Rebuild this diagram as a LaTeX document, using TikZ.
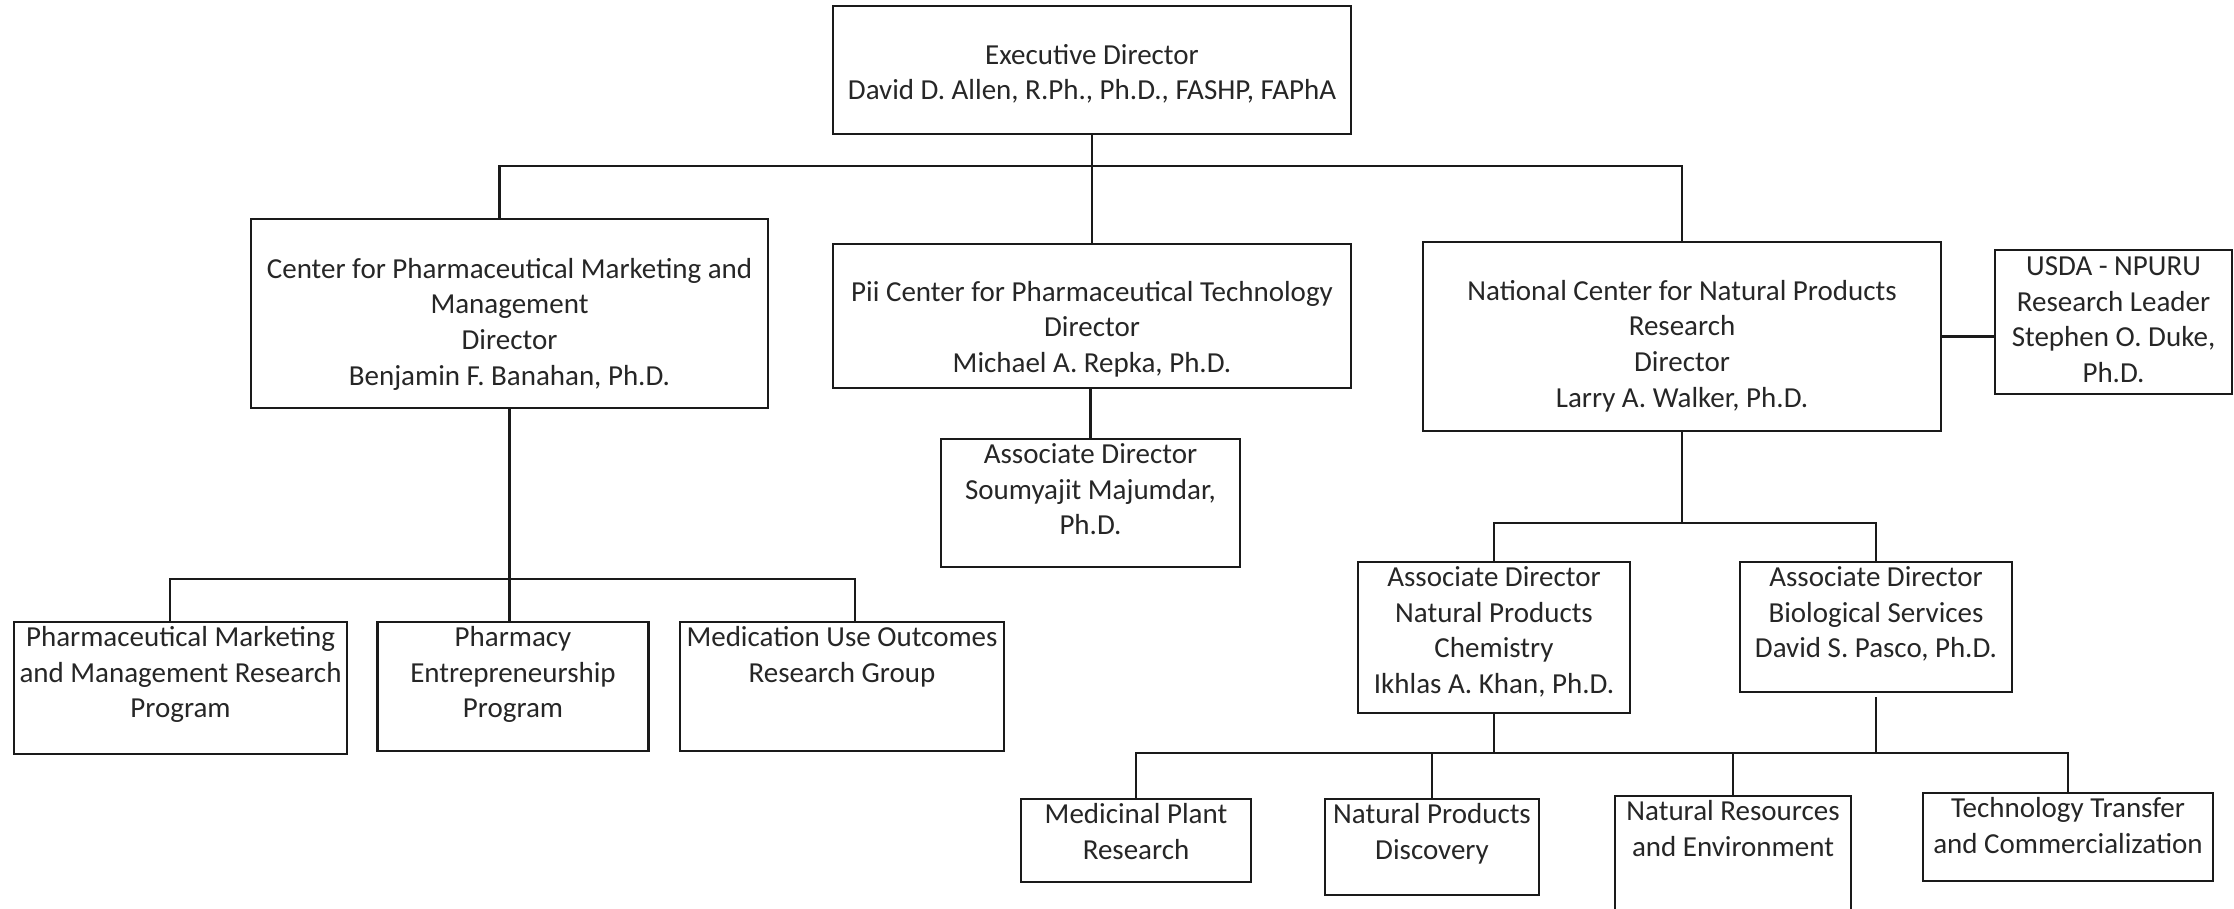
\documentclass[tikz,border=0pt]{standalone}
\usepackage{fontspec}
\setmainfont{Carlito}
\usepackage{tikz}
\definecolor{OrgLine}{HTML}{1A1A1A}
\definecolor{OrgText}{HTML}{262626}
\tikzset{
  unit/.style={draw=OrgLine,line width=.8pt,inner sep=0pt,align=flush center,text=OrgText,
    font=\fontsize{8.25}{10.15}\selectfont},
  topunit/.style={unit,text width=#1,minimum width=#1,text height=.245cm},
  link/.style={draw=OrgLine,line width=.65pt}
}
\begin{document}
\begin{tikzpicture}[x=1cm,y=1cm]
\path[use as bounding box] (0,0) rectangle (22.34,9.08);
% directors
\node[topunit=5.18cm,text height=.58cm,text depth=.70cm] (exec) at (10.92,8.38)
  {Executive Director\\David D. Allen, R.Ph., Ph.D., FASHP, FAPhA};
\node[topunit=5.17cm,text height=.59cm,text depth=1.30cm] (cpmm) at (5.095,5.945)
  {Center for Pharmaceutical Marketing and\\Management\\Director\\Benjamin F. Banahan, Ph.D.};
\node[topunit=5.18cm,text height=.57cm,text depth=.87cm] (pii) at (10.92,5.92)
  {Pii Center for Pharmaceutical Technology\\Director\\Michael A. Repka, Ph.D.};
\node[topunit=5.18cm,text height=.58cm,text depth=1.31cm] (ncnpr) at (16.82,5.715)
  {National Center for Natural Products\\Research\\Director\\Larry A. Walker, Ph.D.};
\node[topunit=2.37cm,text height=.255cm,text depth=1.185cm] (usda) at (21.135,5.86)
  {USDA - NPURU\\Research Leader\\Stephen O. Duke,\\Ph.D.};
\node[topunit=2.99cm,text depth=1.035cm] (piiassoc) at (10.905,4.05)
  {Associate Director\\Soumyajit Majumdar,\\Ph.D.};
% programs
\node[topunit=3.33cm,text depth=1.075cm] (pmm) at (1.805,2.20)
  {Pharmaceutical Marketing\\and Management Research\\Program};
\node[topunit=2.715cm,text depth=1.045cm] (pep) at (5.13,2.215)
  {Pharmacy\\Entrepreneurship\\Program};
\node[topunit=3.24cm,text depth=1.045cm] (muo) at (8.42,2.215)
  {Medication Use Outcomes\\Research Group};
\node[topunit=2.72cm,text depth=1.265cm] (npchem) at (14.94,2.705)
  {Associate Director\\Natural Products\\Chemistry\\Ikhlas A. Khan, Ph.D.};
\node[topunit=2.72cm,text depth=1.055cm] (bioserv) at (18.76,2.81)
  {Associate Director\\Biological Services\\David S. Pasco, Ph.D.};
\node[topunit=2.30cm,text depth=.585cm] (medplant) at (11.36,.675)
  {Medicinal Plant\\Research};
\node[topunit=2.14cm,text depth=.715cm] (npdisc) at (14.32,.61)
  {Natural Products\\Discovery};
\node[topunit=2.36cm,text depth=1.095cm] (natres) at (17.33,.45)
  {Natural Resources\\and Environment};
\node[topunit=2.90cm,text depth=.635cm] (techtrans) at (20.68,.71)
  {Technology Transfer\\and Commercialization};
% connectors
\coordinate (topbus) at (10.90,7.42);
\coordinate (cpmmbus) at (5.09,3.29);
\coordinate (ncnprbus) at (16.80,3.85);
\coordinate (labbus) at (16.00,1.55);
\draw[link] (exec.south) -- (pii.north);
\draw[link] ([xshift=-.1cm]cpmm.north) |- (topbus) -| (ncnpr.north);
\draw[link] (ncnpr.east) -- (ncnpr.east -| usda.west);
\draw[link] (piiassoc.north) -- (piiassoc.north |- pii.south);
\draw[link] (cpmm.south) -- (cpmm.south |- pep.north);
\draw[link] ([xshift=-.105cm]pmm.north) |- (cpmmbus) -| ([xshift=.13cm]muo.north);
\draw[link] (ncnpr.south) -- (ncnpr.south |- ncnprbus);
\draw[link] (npchem.north) |- (ncnprbus) -| (bioserv.north);
\draw[link] (npchem.south) -- (npchem.south |- labbus);
\draw[link] ([yshift=-.04cm]bioserv.south) -- (bioserv.south |- labbus);
\draw[link] (medplant.north) |- (labbus) -| (techtrans.north);
\draw[link] (npdisc.north) -- (npdisc.north |- labbus);
\draw[link] (natres.north) -- (natres.north |- labbus);
\end{tikzpicture}
\end{document}
